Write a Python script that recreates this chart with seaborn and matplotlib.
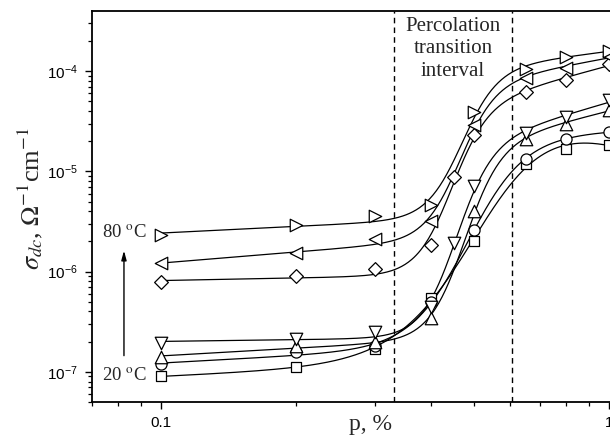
import numpy as np
import pandas as pd
import matplotlib
matplotlib.use("Agg")
import matplotlib.pyplot as plt
import seaborn as sns
from matplotlib.ticker import LogLocator, NullFormatter, FixedLocator, FixedFormatter

# ---- data (p in %, sigma_dc in Ohm^-1 cm^-1) ----
p_20 = [0.1, 0.2, 0.3, 0.4, 0.5, 0.65, 0.8, 1.0]
s_20 = [9.0e-8, 1.13e-7, 1.7e-7, 5.5e-7, 2.0e-6, 1.19e-5, 1.69e-5, 1.85e-5]

p_30 = [0.1, 0.2, 0.3, 0.4, 0.5, 0.65, 0.8, 1.0]
s_30 = [1.2e-7, 1.56e-7, 1.8e-7, 5.0e-7, 2.63e-6, 1.34e-5, 2.12e-5, 2.45e-5]

p_40 = [0.1, 0.2, 0.3, 0.4, 0.5, 0.65, 0.8, 1.0]
s_40 = [1.4e-7, 1.82e-7, 2.0e-7, 3.45e-7, 4.0e-6, 2.12e-5, 3.0e-5, 4.1e-5]

p_50 = [0.1, 0.2, 0.3, 0.4, 0.45, 0.5, 0.65, 0.8, 1.0]
s_50 = [1.95e-7, 2.15e-7, 2.5e-7, 4.4e-7, 1.92e-6, 7.2e-6, 2.42e-5, 3.49e-5, 5.1e-5]

p_60 = [0.1, 0.2, 0.3, 0.4, 0.45, 0.5, 0.65, 0.8, 1.0]
s_60 = [7.8e-7, 9.1e-7, 1.05e-6, 1.85e-6, 8.7e-6, 2.3e-5, 6.2e-5, 8.1e-5, 1.19e-4]

p_70 = [0.1, 0.2, 0.3, 0.4, 0.5, 0.65, 0.8, 1.0]
s_70 = [1.21e-6, 1.52e-6, 2.12e-6, 3.2e-6, 2.88e-5, 8.45e-5, 1.08e-4, 1.4e-4]

p_80 = [0.1, 0.2, 0.3, 0.4, 0.5, 0.65, 0.8, 1.0]
s_80 = [2.33e-6, 2.95e-6, 3.55e-6, 4.6e-6, 3.9e-5, 1.04e-4, 1.39e-4, 1.6e-4]

series_names = ["20", "30", "40", "50", "60", "70", "80"]
series_p = [p_20, p_30, p_40, p_50, p_60, p_70, p_80]
series_s = [s_20, s_30, s_40, s_50, s_60, s_70, s_80]
series_markers = ["s", "o", "^", "v", "D", "<", ">"]
series_msize = [7.5, 8.0, 9.0, 9.0, 7.0, 9.0, 9.0]

percolation_bounds = [0.33, 0.607]
x_ticks = [0.1, 1]
x_ticklabels = ["0.1", "1"]

# ---- style ----
sns.set_style("ticks")
plt.rcParams["font.family"] = ["Liberation Sans", "DejaVu Sans"]
plt.rcParams["mathtext.fontset"] = "custom"
plt.rcParams["mathtext.rm"] = "Liberation Sans"
plt.rcParams["mathtext.it"] = "Liberation Sans:italic"
plt.rcParams["mathtext.bf"] = "Liberation Sans:bold"

fig = plt.figure(figsize=(6.1, 4.42), dpi=100)
ax = fig.add_axes([92 / 610, 40 / 442, 556 / 610, 391 / 442])


def sigmoid_fit(p, s):
    """Smooth percolation-type fit in log-log space."""
    u = np.log10(np.asarray(p, float))
    v = np.log10(np.asarray(s, float))
    best = None
    for x0 in np.linspace(-0.55, -0.15, 81):
        for w in np.linspace(0.04, 0.12, 41):
            S = 1.0 / (1.0 + np.exp(-(u - x0) / w))
            X = np.column_stack([np.ones_like(u), u, S, u * S])
            coef, *_ = np.linalg.lstsq(X, v, rcond=None)
            sse = np.sum((X @ coef - v) ** 2)
            if best is None or sse < best[0]:
                best = (sse, x0, w, coef)
    _, x0, w, coef = best
    uu = np.linspace(u.min(), u.max(), 400)
    S = 1.0 / (1.0 + np.exp(-(uu - x0) / w))
    vv = coef[0] + coef[1] * uu + coef[2] * S + coef[3] * uu * S
    return 10 ** uu, 10 ** vv


curve_frames = []
point_frames = []
for name, p, s in zip(series_names, series_p, series_s):
    xc, yc = sigmoid_fit(p, s)
    curve_frames.append(pd.DataFrame({"p": xc, "sigma": yc, "T": name}))
    point_frames.append(pd.DataFrame({"p": p, "sigma": s, "T": name}))
curves = pd.concat(curve_frames, ignore_index=True)
points = pd.concat(point_frames, ignore_index=True)

sns.lineplot(data=curves, x="p", y="sigma", units="T", estimator=None,
             color="black", lw=0.9, ax=ax, zorder=2, sort=False)

for name, mk, ms in zip(series_names, series_markers, series_msize):
    sub = points[points["T"] == name]
    sns.scatterplot(data=sub, x="p", y="sigma", marker=mk, s=ms ** 2,
                    color="white", edgecolor="black", linewidth=0.9,
                    ax=ax, zorder=3, legend=False)

for xb in percolation_bounds:
    ax.axvline(xb, color="black", lw=1.0, ls=(0, (4, 3)), zorder=1)

ax.set_xscale("log")
ax.set_yscale("log")
ax.set_xlim(0.07, 1.22)
ax.set_ylim(5e-8, 10 ** -3.4)

ax.xaxis.set_major_locator(FixedLocator(x_ticks))
ax.xaxis.set_major_formatter(FixedFormatter(x_ticklabels))
ax.xaxis.set_minor_locator(LogLocator(base=10, subs=np.arange(2, 10)))
ax.xaxis.set_minor_formatter(NullFormatter())
ax.yaxis.set_major_locator(LogLocator(base=10, numticks=10))
ax.yaxis.set_minor_locator(LogLocator(base=10, subs=np.arange(2, 10), numticks=20))
ax.yaxis.set_minor_formatter(NullFormatter())

ax.tick_params(which="major", direction="out", length=5, width=1.0,
               labelsize=11, pad=5, color="black", labelcolor="black")
ax.tick_params(which="minor", direction="out", length=3, width=0.9, color="black")
for side in ["left", "bottom", "top"]:
    ax.spines[side].set_linewidth(1.3)
    ax.spines[side].set_color("black")
ax.spines["right"].set_visible(False)

serif = ["Liberation Serif", "DejaVu Serif"]
ax.set_xlabel("p, %", fontsize=17, family=serif)
ax.xaxis.set_label_coords(0.5, -0.03)
ylab = ax.set_ylabel(r"$\sigma_{dc}$, $\Omega^{-1}$cm$^{-1}$", fontsize=19, family=serif)
ylab.set_math_fontfamily("stix")
ax.yaxis.set_label_coords(-0.085, 0.52)

ax.text(np.sqrt(percolation_bounds[0] * percolation_bounds[1]), 0.985,
        "Percolation\ntransition\ninterval", transform=ax.get_xaxis_transform(),
        ha="center", va="top", fontsize=15, family=serif, linespacing=1.25)

t80 = ax.text(0.0929, 2.4e-6, r"80 $^{\mathrm{o}}$C", ha="right", va="center",
              fontsize=13.5, family=serif)
t80.set_math_fontfamily("stix")
t20 = ax.text(0.0929, 9.1e-8, r"20 $^{\mathrm{o}}$C", ha="right", va="center",
              fontsize=13.5, family=serif)
t20.set_math_fontfamily("stix")
ax.annotate("", xy=(0.0825, 1.62e-6), xytext=(0.0825, 1.45e-7),
            arrowprops=dict(arrowstyle="-|>,head_length=0.55,head_width=0.15",
                            color="black", lw=1.0, shrinkA=0, shrinkB=0))

fig.savefig("out.png", dpi=100)
